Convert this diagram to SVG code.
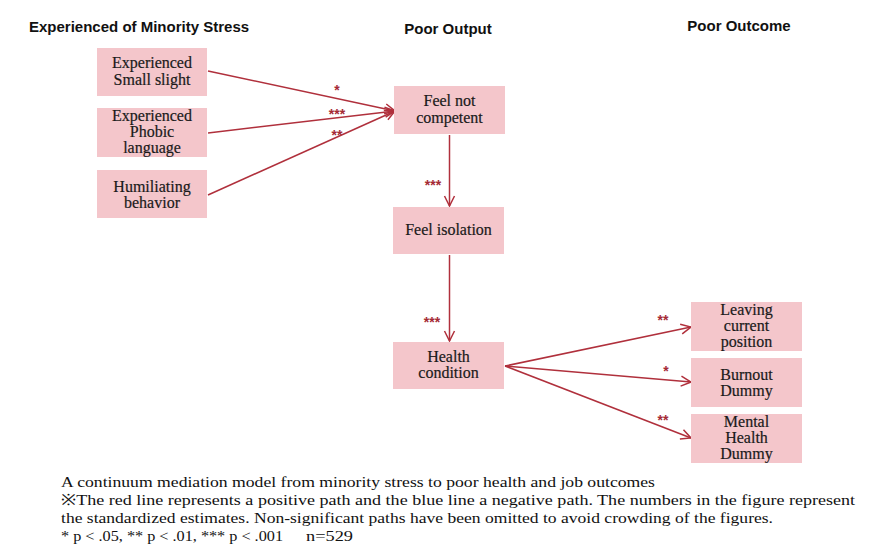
<svg xmlns="http://www.w3.org/2000/svg" width="883" height="552" viewBox="0 0 883 552">
<defs>
<style>
.hdr{font-family:"Liberation Sans",Arial,sans-serif;font-weight:bold;font-size:15px;fill:#111;}
.box{fill:#f4c6cb;}
.nt{font-family:"Liberation Serif","Times New Roman",serif;font-size:16px;fill:#1a1a1a;stroke:#1a1a1a;stroke-width:0.2;text-anchor:middle;}
.edge{stroke:#b0303c;stroke-width:1.5;fill:none;marker-end:url(#arr);}
.sig{font-family:"Liberation Sans",Arial,sans-serif;font-size:14px;font-weight:bold;fill:#a52a35;text-anchor:middle;}
.cap{font-family:"Liberation Serif","Times New Roman",serif;font-size:15.5px;fill:#111;}
</style>
<marker id="arr" markerUnits="userSpaceOnUse" markerWidth="12" markerHeight="14" refX="11" refY="6" orient="auto" viewBox="0 0 12 12">
<path d="M1,1 L11,6 L1,11" fill="none" stroke="#b0303c" stroke-width="1.5"/>
</marker>
</defs>
<rect width="883" height="552" fill="#ffffff"/>
<g id="headers">
<text class="hdr" x="29" y="32">Experienced of Minority Stress</text>
<text class="hdr" x="448" y="34" text-anchor="middle">Poor Output</text>
<text class="hdr" x="739" y="31" text-anchor="middle">Poor Outcome</text>
</g>
<g id="connectors">
<line class="edge" x1="208" y1="71" x2="395" y2="111"/>
<line class="edge" x1="208" y1="133" x2="395" y2="111"/>
<line class="edge" x1="208" y1="195" x2="395" y2="111"/>
<line class="edge" x1="449.5" y1="135" x2="449.5" y2="206"/>
<line class="edge" x1="449.5" y1="255" x2="449.5" y2="341"/>
<line class="edge" x1="505" y1="366" x2="691" y2="327"/>
<line class="edge" x1="505" y1="366" x2="691" y2="382"/>
<line class="edge" x1="505" y1="366" x2="691" y2="438"/>
<text class="sig" x="337" y="95">*</text>
<text class="sig" x="337" y="119">***</text>
<text class="sig" x="337" y="140">**</text>
<text class="sig" x="433" y="190">***</text>
<text class="sig" x="432" y="327">***</text>
<text class="sig" x="663" y="325">**</text>
<text class="sig" x="666" y="376">*</text>
<text class="sig" x="663" y="425">**</text>
</g>
<g id="n-small-slight">
<rect class="box" x="97" y="48" width="110" height="48"/>
<text class="nt" x="152" y="68">Experienced</text>
<text class="nt" x="152" y="85">Small slight</text>
</g>
<g id="n-phobic-language">
<rect class="box" x="97" y="108" width="110" height="49"/>
<text class="nt" x="152" y="121">Experienced</text>
<text class="nt" x="152" y="137">Phobic</text>
<text class="nt" x="152" y="153">language</text>
</g>
<g id="n-humiliating">
<rect class="box" x="97" y="170" width="110" height="48"/>
<text class="nt" x="152" y="192">Humiliating</text>
<text class="nt" x="152" y="208">behavior</text>
</g>
<g id="n-not-competent">
<rect class="box" x="394" y="86" width="111" height="48"/>
<text class="nt" x="449.5" y="106">Feel not</text>
<text class="nt" x="449.5" y="123">competent</text>
</g>
<g id="n-isolation">
<rect class="box" x="393" y="207" width="111" height="47"/>
<text class="nt" x="448.5" y="235">Feel isolation</text>
</g>
<g id="n-health">
<rect class="box" x="393" y="342" width="111" height="47"/>
<text class="nt" x="448.5" y="362">Health</text>
<text class="nt" x="448.5" y="378">condition</text>
</g>
<g id="n-leaving">
<rect class="box" x="691" y="302" width="111" height="49"/>
<text class="nt" x="746.5" y="315">Leaving</text>
<text class="nt" x="746.5" y="331">current</text>
<text class="nt" x="746.5" y="347">position</text>
</g>
<g id="n-burnout">
<rect class="box" x="691" y="358" width="111" height="49"/>
<text class="nt" x="746.5" y="380">Burnout</text>
<text class="nt" x="746.5" y="396">Dummy</text>
</g>
<g id="n-mental">
<rect class="box" x="691" y="414" width="111" height="49"/>
<text class="nt" x="746.5" y="427">Mental</text>
<text class="nt" x="746.5" y="443">Health</text>
<text class="nt" x="746.5" y="459">Dummy</text>
</g>
<g id="caption">
<text class="cap" x="61" y="487" textLength="594" lengthAdjust="spacingAndGlyphs">A continuum mediation model from minority stress to poor health and job outcomes</text>
<text class="cap" x="61" y="505" textLength="794" lengthAdjust="spacingAndGlyphs">※The red line represents a positive path and the blue line a negative path. The numbers in the figure represent</text>
<text class="cap" x="61" y="523" textLength="712" lengthAdjust="spacingAndGlyphs">the standardized estimates. Non-significant paths have been omitted to avoid crowding of the figures.</text>
<text class="cap" x="61" y="541" textLength="222" lengthAdjust="spacingAndGlyphs">* p &lt; .05, ** p &lt; .01, *** p &lt; .001</text>
<text class="cap" x="306" y="541" textLength="47" lengthAdjust="spacingAndGlyphs">n=529</text>
</g>
</svg>
